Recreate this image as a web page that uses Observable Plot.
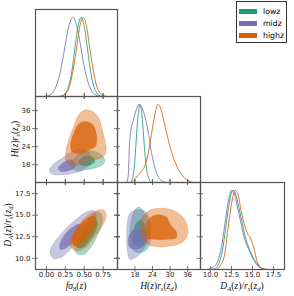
<!DOCTYPE html>
<html><head><meta charset="utf-8">
<script src="https://cdn.jsdelivr.net/npm/d3@7"></script>
<script src="https://cdn.jsdelivr.net/npm/@observablehq/plot@0.6"></script>
<style>
html,body{margin:0;padding:0;background:#fff;}
#chart{position:relative;width:294px;height:296px;overflow:hidden;}
#chart svg{position:absolute;overflow:visible;}
.lab{position:absolute;font-family:"Liberation Serif","DejaVu Serif",serif;font-size:9.5px;color:#111;white-space:nowrap;line-height:1;transform:translate(-50%,-50%);}
.lab.rot{transform:translate(-50%,-50%) rotate(-90deg);}
.lab sub{font-size:70%;vertical-align:-0.3em;line-height:0;}
#legend{position:absolute;left:236px;top:1px;width:51px;height:42px;border:1px solid #333;box-sizing:border-box;background:#fff;font-family:"DejaVu Sans",sans-serif;font-size:7.8px;color:#000;}
.item{position:absolute;left:2px;height:8px;display:flex;align-items:center;}
.sw{width:18px;height:5px;margin-right:6px;}
</style></head>
<body><div id="chart"></div>
<script>
const series = ["lowz", "midz", "highz"];
const colors = ["#1b9e77", "#7570b3", "#d95f02"];

// tick values
const fs8Ticks = [0, 0.25, 0.5, 0.75];
const hTicks = [18, 24, 30, 36];
const daTicks = [10, 12.5, 15, 17.5];

// 1D marginals: [value, relative density]
const fs8_lowz = [[0.17,0],[0.212,0.01],[0.252,0.042],[0.292,0.127],[0.336,0.32],[0.375,0.6],[0.419,0.89],[0.459,1],[0.499,0.89],[0.543,0.6],[0.583,0.32],[0.627,0.127],[0.666,0.042],[0.706,0.01],[0.75,0]];
const fs8_midz = [[-0.02,0],[0.018,0.01],[0.076,0.04],[0.128,0.13],[0.186,0.32],[0.239,0.6],[0.296,0.89],[0.349,1],[0.402,0.89],[0.459,0.6],[0.512,0.32],[0.569,0.13],[0.622,0.04],[0.68,0.01],[0.72,0]];
const fs8_highz = [[0.17,0],[0.217,0.01],[0.261,0.042],[0.305,0.127],[0.349,0.32],[0.397,0.6],[0.442,0.89],[0.486,1],[0.53,0.89],[0.574,0.6],[0.622,0.32],[0.666,0.127],[0.71,0.042],[0.755,0.01],[0.8,0]];

const h_lowz = [[16.0,0],[16.54,0.009],[17.44,0.099],[18.0,0.30],[18.57,0.622],[19.13,0.88],[19.69,1],[20.25,0.914],[20.82,0.665],[21.38,0.386],[21.94,0.185],[22.73,0.052],[23.85,0.004],[24.5,0]];
const h_midz = [[15.19,0],[15.75,0.107],[16.09,0.45],[16.54,0.644],[17.44,0.794],[18.57,0.944],[19.35,1],[20.14,0.974],[21.6,0.815],[22.73,0.601],[23.63,0.386],[24.64,0.215],[25.77,0.086],[27.23,0.021],[28.92,0]];
const h_highz = [[16.54,0],[18.23,0.056],[19.92,0.129],[21.6,0.236],[22.73,0.408],[23.85,0.665],[24.98,0.901],[25.88,1],[27.0,0.923],[28.35,0.708],[30.04,0.451],[31.73,0.258],[33.98,0.099],[36.23,0.021],[37.92,0]];

const da_lowz = [[9.9,0],[10.4,0.004],[10.99,0.077],[11.39,0.227],[11.79,0.506],[12.18,0.807],[12.66,1],[12.98,0.957],[13.38,0.785],[13.77,0.592],[14.17,0.399],[14.76,0.227],[15.36,0.099],[15.96,0.026],[16.55,0.004],[16.9,0]];
const da_midz = [[9.6,0],[10.0,0.013],[10.6,0.056],[10.99,0.142],[11.39,0.335],[11.79,0.635],[12.18,0.893],[12.5,1],[12.78,0.979],[13.18,0.803],[13.57,0.614],[13.97,0.421],[14.57,0.249],[15.16,0.12],[15.76,0.034],[16.35,0.004],[16.7,0]];
const da_highz = [[10.4,0],[10.8,0.004],[11.19,0.056],[11.67,0.185],[12.07,0.506],[12.46,0.807],[12.94,1],[13.26,0.957],[13.57,0.785],[13.97,0.592],[14.37,0.464],[14.76,0.399],[15.16,0.27],[15.56,0.099],[15.96,0.026],[16.35,0.004],[16.7,0]];

// 2D contours (95% and 68%): [x, y]
const fsH_lowz_95 = [[0.318,17.95],[0.406,20.94],[0.539,22.72],[0.671,22.05],[0.759,20.39],[0.763,18.5],[0.671,17.17],[0.517,16.28],[0.384,16.06]];
const fsH_lowz_68 = [[0.428,19.06],[0.517,20.72],[0.614,20.5],[0.64,19.06],[0.561,17.72],[0.464,17.72]];
const fsH_midz_95 = [[0.04,16.06],[0.098,18.28],[0.208,20.17],[0.318,22.05],[0.428,23.27],[0.525,22.94],[0.583,20.72],[0.561,17.95],[0.472,16.06],[0.318,14.95],[0.164,14.6],[0.067,14.95]];
const fsH_midz_68 = [[0.155,16.72],[0.217,18.5],[0.305,19.61],[0.375,18.83],[0.375,17.17],[0.296,16.06],[0.199,15.72]];
const fsH_highz_95 = [[0.517,36.26],[0.627,35.37],[0.702,32.93],[0.737,29.6],[0.772,26.27],[0.79,22.94],[0.759,20.94],[0.649,19.61],[0.517,18.5],[0.384,17.61],[0.296,17.95],[0.252,20.17],[0.261,22.94],[0.296,26.27],[0.362,30.71],[0.428,34.6]];
const fsH_highz_68 = [[0.517,32.37],[0.614,31.27],[0.662,27.94],[0.649,24.05],[0.561,22.94],[0.45,21.61],[0.34,22.27],[0.318,24.6],[0.362,28.49],[0.428,31.6]];

const fsD_lowz_95 = [[0.362,11.43],[0.428,12.98],[0.561,14.54],[0.671,15.39],[0.728,15.12],[0.737,14.15],[0.671,12.6],[0.583,11.24],[0.494,10.46],[0.406,10.54]];
const fsD_lowz_68 = [[0.406,11.82],[0.494,13.18],[0.605,14.34],[0.671,14.34],[0.649,13.18],[0.561,12.02],[0.472,11.24],[0.406,11.24]];
const fsD_midz_95 = [[0.053,11.05],[0.12,12.02],[0.252,13.37],[0.406,14.61],[0.539,15.39],[0.627,15.5],[0.658,14.92],[0.583,13.76],[0.472,12.4],[0.34,11.24],[0.208,10.19],[0.098,9.96],[0.053,10.46]];
const fsD_midz_68 = [[0.173,11.43],[0.23,12.6],[0.34,13.57],[0.428,13.95],[0.45,13.18],[0.362,12.02],[0.252,11.16],[0.186,11.05]];
const fsD_highz_95 = [[0.318,12.02],[0.384,13.37],[0.517,14.73],[0.649,15.5],[0.759,15.58],[0.79,14.92],[0.737,13.76],[0.627,12.4],[0.517,11.24],[0.406,10.85],[0.331,11.24]];
const fsD_highz_68 = [[0.34,12.21],[0.384,13.18],[0.494,14.34],[0.605,14.92],[0.658,14.61],[0.64,13.68],[0.561,12.6],[0.45,11.63],[0.362,11.51]];

const hD_lowz_95 = [[19.35,15.97],[20.7,15.5],[22.39,14.54],[23.29,13.37],[23.29,12.02],[22.17,11.05],[19.92,10.66],[17.67,10.85],[16.54,11.82],[16.32,13.37],[17.1,14.92],[18.23,15.7]];
const hD_lowz_68 = [[17.44,12.6],[18.23,13.95],[19.92,14.46],[21.6,13.76],[21.94,12.4],[20.48,11.63],[18.23,11.55],[17.33,12.13]];
const hD_midz_95 = [[15.42,14.15],[16.32,15.23],[18.79,15.62],[21.6,15.39],[23.07,14.54],[23.29,13.37],[22.73,12.21],[21.04,11.05],[18.23,10.08],[16.32,9.88],[15.42,10.85],[15.19,12.6]];
const hD_midz_68 = [[15.98,12.6],[17.1,13.18],[19.35,13.37],[21.6,12.98],[22.17,12.21],[21.04,11.43],[18.23,11.05],[16.32,11.24],[15.75,11.82]];
const hD_highz_95 = [[20.48,14.73],[22.73,15.5],[26.67,15.81],[30.6,15.62],[33.98,14.92],[35.89,13.76],[35.89,12.6],[33.98,11.82],[30.04,11.43],[25.54,11.36],[22.17,11.63],[20.48,12.4],[19.92,13.57]];
const hD_highz_68 = [[22.17,14.15],[23.85,14.85],[26.67,15.04],[28.92,14.73],[30.04,13.95],[32.29,12.98],[32.07,12.4],[28.92,12.21],[24.98,12.21],[22.17,12.4],[21.83,13.18]];

// scale domains
const fs8Domain = [-0.145, 0.94];
const hDomainX = [12.04, 40.4];
const hDomainY = [12.06, 40.7];
const daDomainX = [8.81, 18.81];
const daDomainY = [8.7, 18.8];
const densDomain = [0, 1.1];

const chart = document.getElementById("chart");
const SPINE = "#555";

function addPanel(left, top, width, height, xDomain, yDomain, marks) {
  const svg = Plot.plot({
    width, height, marginTop: 0, marginRight: 0, marginBottom: 0, marginLeft: 0,
    x: {domain: xDomain, axis: null},
    y: {domain: yDomain, axis: null},
    style: {background: "none", overflow: "visible", fontFamily: "DejaVu Sans", fontSize: "7px", color: "#222"},
    marks
  });
  svg.style.left = left + "px";
  svg.style.top = top + "px";
  chart.appendChild(svg);
}

const tk = {stroke: SPINE, strokeWidth: 0.8};
function ticks(xv, yv, w, h, sides) {
  const m = [];
  if (sides.includes("b")) m.push(Plot.ruleX(xv, {...tk, insetTop: h - 3, insetBottom: -3}));
  if (sides.includes("t")) m.push(Plot.ruleX(xv, {...tk, insetTop: -3, insetBottom: h - 3}));
  if (sides.includes("l")) m.push(Plot.ruleY(yv, {...tk, insetLeft: -3, insetRight: w - 3}));
  if (sides.includes("r")) m.push(Plot.ruleY(yv, {...tk, insetLeft: w - 3, insetRight: -3}));
  return m;
}
const labelsX = (v, fmt) => Plot.axisX(v, {anchor: "bottom", tickSize: 0, tickPadding: 3, tickFormat: fmt, label: null, fill: "#222", fontSize: 7});
const labelsY = (v, fmt) => Plot.axisY(v, {anchor: "left", tickSize: 0, tickPadding: 5, tickFormat: fmt, label: null, fill: "#222", fontSize: 7});

function lines1D(sets) {
  return sets.map((d, i) => Plot.line(d, {x: p => p[0], y: p => p[1], stroke: colors[i], strokeOpacity: 0.85, strokeWidth: 1, curve: "monotone-x"}));
}
function contours(sets) {
  const m = [];
  sets.forEach(([c95, c68], i) => {
    m.push(Plot.line(c95, {x: p => p[0], y: p => p[1], curve: "catmull-rom-closed", fill: colors[i], fillOpacity: 0.4, stroke: colors[i], strokeOpacity: 0.45, strokeWidth: 0.6}));
    m.push(Plot.line(c68, {x: p => p[0], y: p => p[1], curve: "catmull-rom-closed", fill: colors[i], fillOpacity: 0.75, stroke: colors[i], strokeOpacity: 0.45, strokeWidth: 0.6}));
  });
  return m;
}
const frame = () => Plot.frame({stroke: SPINE, strokeWidth: 1.2});
const f2 = d3.format(".2f"), f1 = d3.format(".1f"), f0 = d3.format("d");

const cols = [[35, 82], [117, 83], [200, 84]];
const rows = [[9, 87], [96, 86], [182, 87]];

// (1,1) fs8 marginal
addPanel(cols[0][0], rows[0][0], cols[0][1], rows[0][1], fs8Domain, densDomain, [
  ...lines1D([fs8_lowz, fs8_midz, fs8_highz]), frame(),
  ...ticks(fs8Ticks, [], cols[0][1], rows[0][1], "b")
]);
// (2,1) fs8 vs H
addPanel(cols[0][0], rows[1][0], cols[0][1], rows[1][1], fs8Domain, hDomainY, [
  ...contours([[fsH_lowz_95, fsH_lowz_68], [fsH_midz_95, fsH_midz_68], [fsH_highz_95, fsH_highz_68]]), frame(),
  ...ticks(fs8Ticks, hTicks, cols[0][1], rows[1][1], "btlr"), labelsY(hTicks, f0)
]);
// (2,2) H marginal
addPanel(cols[1][0], rows[1][0], cols[1][1], rows[1][1], hDomainX, densDomain, [
  ...lines1D([h_lowz, h_midz, h_highz]), frame(),
  ...ticks(hTicks, [], cols[1][1], rows[1][1], "b")
]);
// (3,1) fs8 vs DA
addPanel(cols[0][0], rows[2][0], cols[0][1], rows[2][1], fs8Domain, daDomainY, [
  ...contours([[fsD_lowz_95, fsD_lowz_68], [fsD_midz_95, fsD_midz_68], [fsD_highz_95, fsD_highz_68]]), frame(),
  ...ticks(fs8Ticks, daTicks, cols[0][1], rows[2][1], "btlr"), labelsY(daTicks, f1), labelsX(fs8Ticks, f2)
]);
// (3,2) H vs DA
addPanel(cols[1][0], rows[2][0], cols[1][1], rows[2][1], hDomainX, daDomainY, [
  ...contours([[hD_lowz_95, hD_lowz_68], [hD_midz_95, hD_midz_68], [hD_highz_95, hD_highz_68]]), frame(),
  ...ticks(hTicks, daTicks, cols[1][1], rows[2][1], "btlr"), labelsX(hTicks, f0)
]);
// (3,3) DA marginal
addPanel(cols[2][0], rows[2][0], cols[2][1], rows[2][1], daDomainX, densDomain, [
  ...lines1D([da_lowz, da_midz, da_highz]), frame(),
  ...ticks(daTicks, [], cols[2][1], rows[2][1], "b"), labelsX(daTicks, f1)
]);

// axis titles
function label(html, x, y, rot) {
  const d = document.createElement("div");
  d.className = "lab" + (rot ? " rot" : "");
  d.innerHTML = html;
  d.style.left = x + "px"; d.style.top = y + "px";
  chart.appendChild(d);
}
const hLabel = "<i>H</i>(<i>z</i>)<i>r</i><sub><i>s</i></sub>(<i>z</i><sub><i>d</i></sub>)";
const daLabel = "<i>D</i><sub><i>A</i></sub>(<i>z</i>)/<i>r</i><sub><i>s</i></sub>(<i>z</i><sub><i>d</i></sub>)";
const fsLabel = "<i>f&sigma;</i><sub>8</sub>(<i>z</i>)";
label(fsLabel, 76, 287, false);
label(hLabel, 158.5, 287, false);
label(daLabel, 242, 287, false);
label(hLabel, 15.5, 139, true);
label(daLabel, 8.5, 225, true);

// legend
const lg = document.createElement("div");
lg.id = "legend";
series.forEach((s, i) => {
  const it = document.createElement("div");
  it.className = "item";
  it.style.top = (5 + i * 12) + "px";
  it.innerHTML = `<span class="sw" style="background:${colors[i]}"></span><span>${s}</span>`;
  lg.appendChild(it);
});
chart.appendChild(lg);
</script>
</body></html>
